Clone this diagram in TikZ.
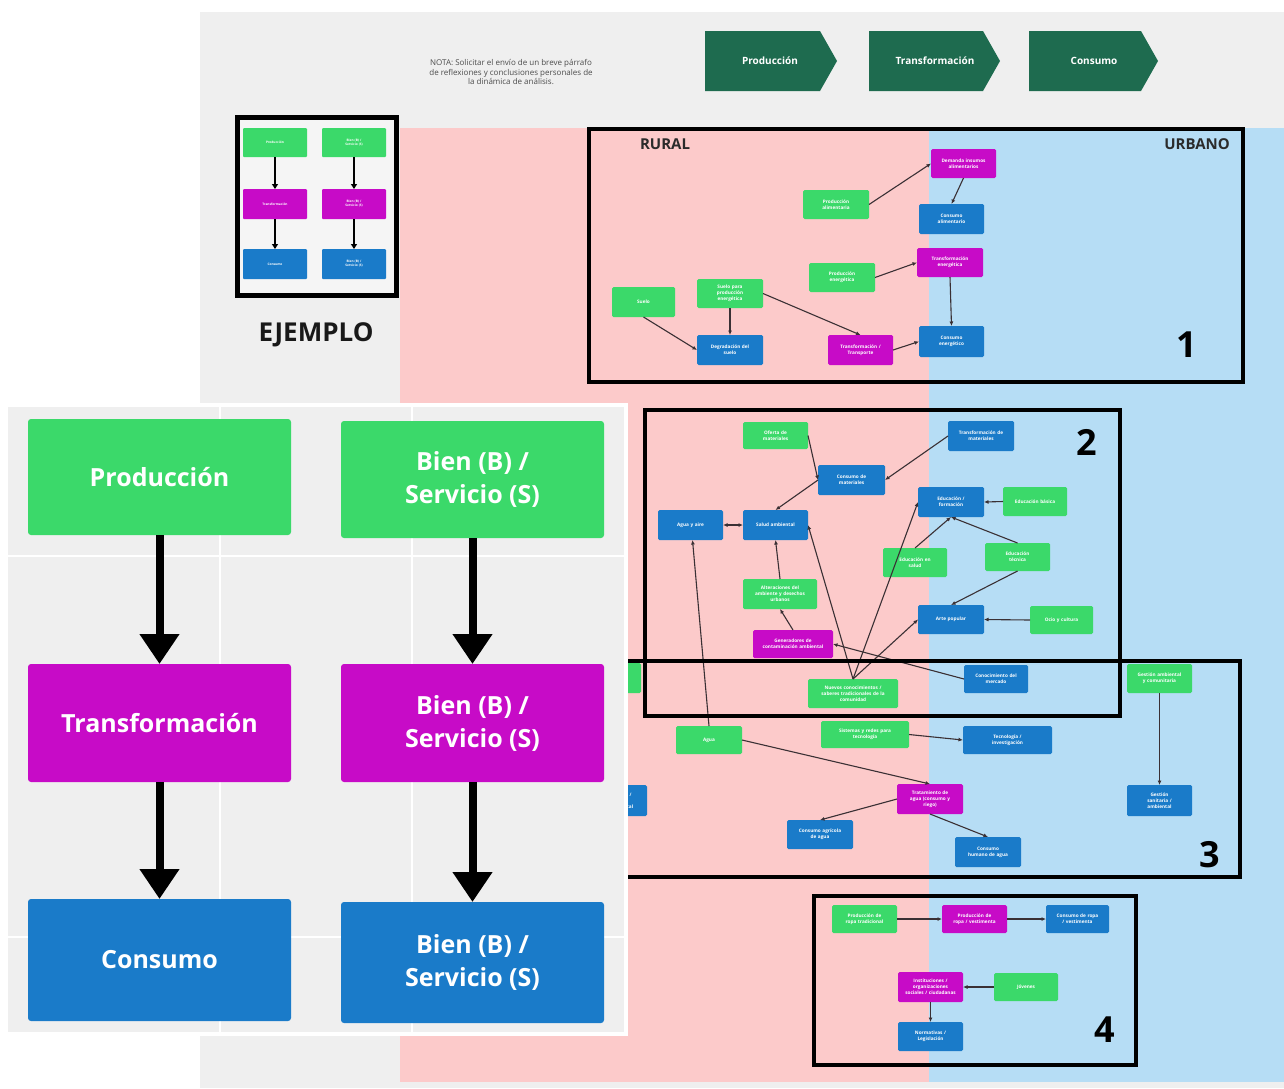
\documentclass[tikz,border=0pt]{standalone}
\usepackage{fontspec}
\setmainfont{Open Sans}
\usetikzlibrary{arrows.meta}

\definecolor{cgreen}{HTML}{3BD96A}
\definecolor{cmag}{HTML}{C70BC7}
\definecolor{cblue}{HTML}{1A7BC9}
\definecolor{cpink}{HTML}{FCCACA}
\definecolor{csky}{HTML}{B6DDF5}
\definecolor{cgrey}{HTML}{EFEFEF}
\definecolor{cdark}{HTML}{1E6B4F}
\definecolor{cline}{HTML}{3A3034}
\definecolor{ctitle}{HTML}{2B2B2B}

% box placed by its corners: style, name, x1, y1, x2, y2, text
\newcommand\mkbox[7]{%
  \node[#1, minimum width=\dimexpr #5pt-#3pt\relax, minimum height=\dimexpr #6pt-#4pt\relax,
        text width=\dimexpr #5pt-#3pt-2pt\relax] (#2) at ({(#3+#5)/2},{(#4+#6)/2}) {#7};}

\tikzset{
  boxbase/.style={rounded corners=1.5pt, inner sep=0pt, outer sep=0pt, align=center,
    text=white, font=\fontsize{4.7}{6.2}\selectfont\bfseries\hyphenpenalty10000},
  gbox/.style={boxbase, fill=cgreen},
  mbox/.style={boxbase, fill=cmag},
  bbox/.style={boxbase, fill=cblue},
  bigbox/.style={rounded corners=3pt, inner sep=0pt, outer sep=0pt, align=center,
    text=white, font=\fontsize{25}{33}\selectfont\bfseries},
  exbox/.style={rounded corners=1pt, inner sep=0pt, outer sep=0pt, align=center,
    text=white, font=\fontsize{3.2}{4}\selectfont\bfseries},
  conn/.style={draw=cline, line width=1.1pt, -{Latex[length=4.5pt,width=4pt]}},
  bothconn/.style={draw=cline, line width=1.1pt, {Latex[length=4.5pt,width=4pt]}-{Latex[length=4.5pt,width=4pt]}},
  exarrow/.style={draw=black, line width=1.6pt, -{Triangle[length=5pt,width=6pt]}},
  bigarrow/.style={draw=black, line width=8pt, -{Triangle[length=30pt,width=38pt]}},
  frame/.style={draw=black, line width=4.5pt},
  bignum/.style={font=\fontsize{36}{36}\selectfont\bfseries, text=black},
  zonetitle/.style={font=\fontsize{15}{15}\selectfont\bfseries, text=ctitle},
  chev/.style={fill=cdark},
  chevtext/.style={text=white, font=\fontsize{10}{10}\selectfont\bfseries}
}

\begin{document}
\begin{tikzpicture}[x=1pt,y=-1pt]
\useasboundingbox (0,0) rectangle (1284,1088);
\fill[white] (0,0) rectangle (1284,1088);

% board background and the two zones
\fill[cgrey] (200,12) rectangle (1284,1088);
\fill[cpink] (400,128) rectangle (929,1082);
\fill[csky] (929,128) rectangle (1284,1082);

% note and process ribbon
\node[align=center, text=black!70, font=\fontsize{8}{9.5}\selectfont] (nota) at (511,72)
  {NOTA: Solicitar el envío de un breve párrafo\\de reflexiones y conclusiones personales de\\la dinámica de análisis.};
\fill[chev] (705,31) -- (820,31) -- (837,61) -- (820,91) -- (705,91) -- cycle;
\fill[chev] (869,31) -- (983,31) -- (1000,61) -- (983,91) -- (869,91) -- cycle;
\fill[chev] (1029,31) -- (1141,31) -- (1158,61) -- (1141,91) -- (1029,91) -- cycle;
\node[chevtext] (chprod) at (770,61) {Producción};
\node[chevtext] (chtrans) at (935,61) {Transformación};
\node[chevtext] (chcons) at (1094,61) {Consumo};

% small example
\fill[cgrey!60!white] (237,117) rectangle (396,295);
\mkbox{exbox, fill=cgreen}{ex1}{243}{128}{307}{157}{Producción}
\mkbox{exbox, fill=cgreen}{ex2}{322}{128}{386}{157}{Bien (B) /\\Servicio (S)}
\mkbox{exbox, fill=cmag}{ex3}{243}{189}{307}{219}{Transformación}
\mkbox{exbox, fill=cmag}{ex4}{322}{189}{386}{219}{Bien (B) /\\Servicio (S)}
\mkbox{exbox, fill=cblue}{ex5}{243}{249}{307}{279}{Consumo}
\mkbox{exbox, fill=cblue}{ex6}{322}{249}{386}{279}{Bien (B) /\\Servicio (S)}
\draw[exarrow] (ex1) -- (ex3);
\draw[exarrow] (ex3) -- (ex5);
\draw[exarrow] (ex2) -- (ex4);
\draw[exarrow] (ex4) -- (ex6);
\draw[line width=5pt] (237,117) rectangle (396,295);
\node[font=\fontsize{26}{26}\selectfont\bfseries, text=black!90] (ejemplo) at (316,335) {EJEMPLO};

% zone titles
\node[zonetitle] (rural) at (665,144) {RURAL};
\node[zonetitle] (urbano) at (1197,144) {URBANO};

% ---- block 1: food and energy
\mkbox{mbox}{rdem}{931}{149}{996}{178}{Demanda insumos\\alimentarios}
\mkbox{gbox}{rpalim}{803}{190}{869}{219}{Producción\\alimentaria}
\mkbox{bbox}{rcalim}{919}{204}{984}{234}{Consumo\\alimentario}
\mkbox{gbox}{rpen}{809}{263}{875}{292}{Producción\\energética}
\mkbox{mbox}{rten}{917}{248}{983}{277}{Transformación\\energética}
\mkbox{bbox}{rcen}{919}{326}{984}{357}{Consumo\\energético}
\mkbox{mbox}{rtt}{828}{335}{893}{365}{Transformación /\\Transporte}
\mkbox{gbox}{rsuelo}{612}{287}{675}{317}{Suelo}
\mkbox{gbox}{rsp}{697}{279}{763}{308}{Suelo para\\producción\\energética}
\mkbox{bbox}{rdeg}{697}{335}{763}{365}{Degradación del\\suelo}
\draw[conn] (rpalim.east) -- (rdem.west);
\draw[conn] (rdem.south) -- (rcalim.north);
\draw[conn] (rpen.east) -- (rten.west);
\draw[conn] (rten.south) -- (rcen.north);
\draw[conn] (rsp.south) -- (rdeg.north);
\draw[conn] (rsuelo.south) -- (rdeg.west);
\draw[conn] (rsp.east) -- (rtt.north);
\draw[conn] (rtt.east) -- (rcen.west);

% ---- block 2: materials, health, education
\mkbox{gbox}{mof}{743}{422}{808}{449}{Oferta de\\materiales}
\mkbox{bbox}{mcm}{818}{465}{885}{495}{Consumo de\\materiales}
\mkbox{bbox}{mtm}{948}{421}{1014}{451}{Transformación de\\materiales}
\mkbox{bbox}{maa}{658}{510}{723}{540}{Agua y aire}
\mkbox{bbox}{msa}{743}{510}{808}{540}{Salud ambiental}
\mkbox{bbox}{med}{918}{487}{984}{517}{Educación /\\formación}
\mkbox{gbox}{meb}{1003}{487}{1067}{516}{Educación básica}
\mkbox{gbox}{mes}{883}{548}{947}{577}{Educación en\\salud}
\mkbox{gbox}{met}{985}{543}{1050}{571}{Educación\\técnica}
\mkbox{bbox}{mar}{918}{605}{984}{634}{Arte popular}
\mkbox{gbox}{moc}{1030}{606}{1093}{634}{Ocio y cultura}
\mkbox{gbox}{mal}{743}{579}{817}{609}{Alteraciones del\\ambiente y desechos\\urbanos}
\mkbox{mbox}{mge}{753}{630}{833}{658}{Generadores de\\contaminación ambiental}
\mkbox{gbox}{mnu}{808}{679}{898}{708}{Nuevos conocimientos /\\saberes tradicionales de la\\comunidad}
\mkbox{bbox}{mco}{964}{665}{1028}{693}{Conocimiento del\\mercado}
\draw[conn] (mof.east) -- (mcm.west);
\draw[conn] (mtm.west) -- (mcm.east);
\draw[conn] (mcm.west) -- (msa.north);
\draw[bothconn] (msa.west) -- (maa.east);
\draw[conn] (mal.north) -- (msa.south);
\draw[conn] (mge.north) -- (mal.south);
\draw[conn] (mnu.north) -- (msa.east);
\draw[conn] (mnu.north) -- (med.west);
\draw[conn] (mnu.north) -- (mar.west);
\draw[conn] (mco.west) -- (mge.east);
\draw[conn] (mes.north) -- (med.south);
\draw[conn] (met.north) -- (med.south);
\draw[conn] (meb.west) -- (med.east);
\draw[conn] (met.south) -- (mar.north);
\draw[conn] (moc.west) -- (mar.east);

% ---- block 3: water and technology
\mkbox{gbox}{wgv}{1127}{664}{1192}{693}{Gestión ambiental\\y comunitaria}
\mkbox{bbox}{wgb}{1127}{785}{1192}{816}{Gestión\\sanitaria /\\ambiental}
\mkbox{gbox}{wag}{676}{726}{742}{754}{Agua}
\mkbox{gbox}{wsi}{821}{721}{909}{748}{Sistemas y redes para\\tecnología}
\mkbox{bbox}{wte}{963}{726}{1052}{754}{Tecnología /\\investigación}
\mkbox{mbox}{wtr}{897}{784}{963}{814}{Tratamiento de\\agua (consumo y\\riego)}
\mkbox{bbox}{wca}{787}{820}{853}{849}{Consumo agrícola\\de agua}
\mkbox{bbox}{wch}{955}{837}{1021}{867}{Consumo\\humano de agua}
\mkbox{bbox}{wlb}{577}{785}{647}{816}{Contaminación /\\salud y\\calidad ambiental}
\mkbox{gbox}{wlg}{575}{663}{641}{693}{Producción\\local}
\draw[conn] (wgv.south) -- (wgb.north);
\draw[conn] (wsi.east) -- (wte.west);
\draw[conn] (wag.east) -- (wtr.north);
\draw[conn] (wtr.west) -- (wca.north);
\draw[conn] (wtr.south) -- (wch.north);
\draw[conn] (wag.north) -- ([xshift=2pt]maa.south);

% ---- block 4: clothing and institutions
\mkbox{gbox}{cp}{832}{905}{897}{933}{Producción de\\ropa tradicional}
\mkbox{mbox}{cq}{942}{905}{1007}{933}{Producción de\\ropa / vestimenta}
\mkbox{bbox}{cr}{1046}{905}{1109}{933}{Consumo de ropa\\/ vestimenta}
\mkbox{mbox}{cs}{898}{972}{963}{1002}{Instituciones /\\organizaciones\\sociales / ciudadanas}
\mkbox{gbox}{ct}{994}{973}{1058}{1001}{Jóvenes}
\mkbox{bbox}{cu}{898}{1022}{963}{1051}{Normativas /\\Legislación}
\draw[conn] (cp.east) -- (cq.west);
\draw[conn] (cq.east) -- (cr.west);
\draw[conn] (ct.west) -- (cs.east);
\draw[conn] (cs.south) -- (cu.north);

% block frames and numbers
\draw[frame] (589,129) rectangle (1243,382);
\draw[frame] (645,410) rectangle (1120,716);
\draw[frame] (560,661) rectangle (1240,877);
\draw[frame] (814,896) rectangle (1136,1065);
\node[bignum] (n1) at (1187,345) {1};
\node[bignum] (n2) at (1087,442) {2};
\node[bignum] (n3) at (1210,855) {3};
\node[bignum] (n4) at (1105,1030) {4};

% enlarged example panel
\fill[white] (4,403) rectangle (628,1036);
\fill[cgrey] (8,407) rectangle (624,1032);
\foreach \gx in {220,412} \draw[white, line width=1.5pt] (\gx,407) -- (\gx,1032);
\foreach \gy in {556,937} \draw[white, line width=1.5pt] (8,\gy) -- (624,\gy);
\node[bigbox, fill=cgreen, minimum width=263pt, minimum height=116pt] (lp1) at (159.5,477) {Producción};
\node[bigbox, fill=cgreen, minimum width=263pt, minimum height=117pt] (lp2) at (472.5,479.5) {Bien (B) /\\Servicio (S)};
\node[bigbox, fill=cmag, minimum width=263pt, minimum height=118pt] (lp3) at (159.5,723) {Transformación};
\node[bigbox, fill=cmag, minimum width=263pt, minimum height=118pt] (lp4) at (472.5,723) {Bien (B) /\\Servicio (S)};
\node[bigbox, fill=cblue, minimum width=263pt, minimum height=122pt] (lp5) at (159.5,960) {Consumo};
\node[bigbox, fill=cblue, minimum width=263pt, minimum height=121pt] (lp6) at (472.5,962.5) {Bien (B) /\\Servicio (S)};
\draw[bigarrow] (lp1.south) -- (lp3.north);
\draw[bigarrow] (lp3.south) -- (lp5.north);
\draw[bigarrow] (lp2.south) -- (lp4.north);
\draw[bigarrow] (lp4.south) -- (lp6.north);
\end{tikzpicture}
\end{document}
